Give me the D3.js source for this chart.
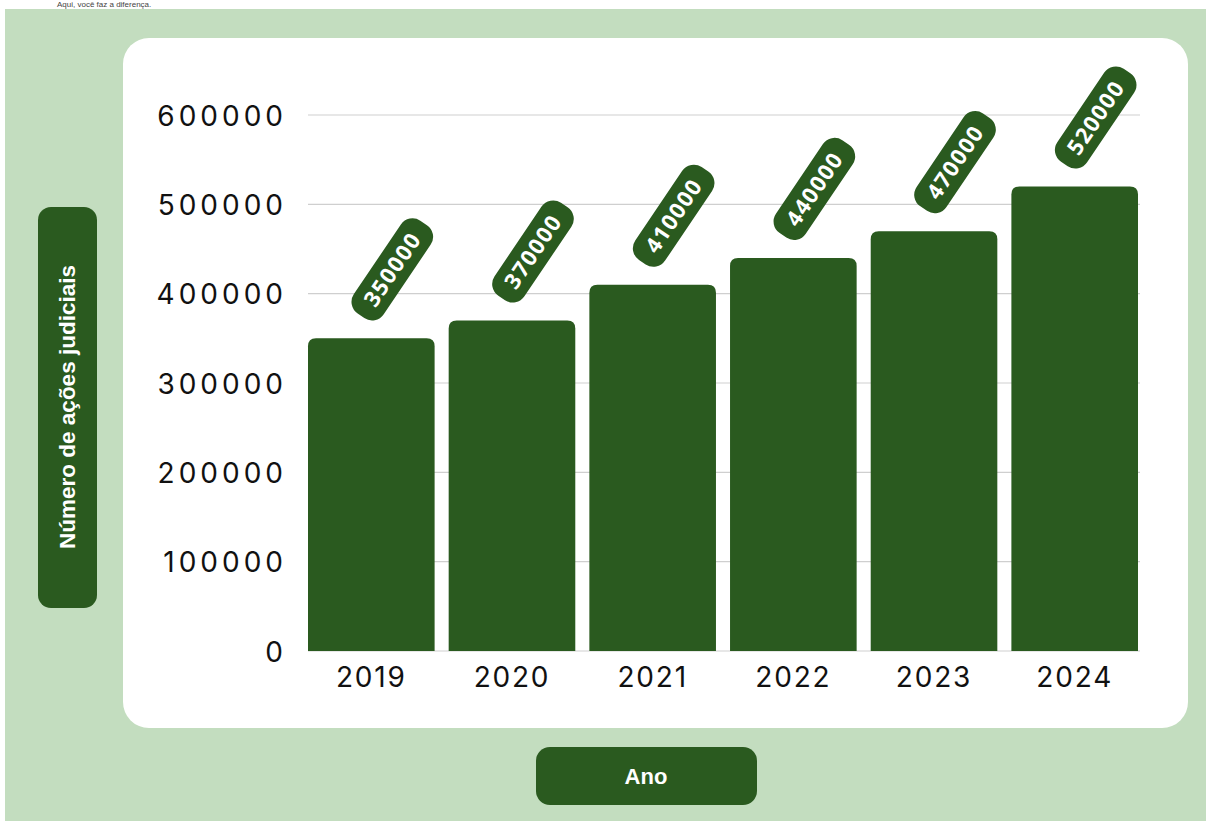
<!DOCTYPE html>
<html><head><meta charset="utf-8">
<script src="https://cdn.jsdelivr.net/npm/d3@7"></script>
<style>
html,body{margin:0;padding:0;background:#fff;}
svg{display:block;}
</style></head>
<body>
<svg id="chart" width="1206" height="821"></svg>
<script>
const years = ["2019","2020","2021","2022","2023","2024"];
const acoes = [350000,370000,410000,440000,470000,520000];
const yTicks = [0,100000,200000,300000,400000,500000,600000];
const yTitle = "Número de ações judiciais";
const xTitle = "Ano";
const caption = "Aqui, você faz a diferença.";

const dark = "#2a5a1f", light = "#c3ddbf";
const svg = d3.select("#chart");

svg.append("text").attr("x",57).attr("y",7).attr("font-family","Liberation Sans, Arial")
  .attr("font-size",8).attr("fill","#444").text(caption);

svg.append("rect").attr("x",5).attr("y",9).attr("width",1201).attr("height",812).attr("fill",light);
svg.append("rect").attr("x",123).attr("y",38).attr("width",1065).attr("height",690).attr("rx",26).attr("fill","#fff");

const x = d3.scaleBand().domain(years).range([308,1138]).paddingInner(0.1).paddingOuter(0);
const y = d3.scaleLinear().domain([0,600000]).range([651,115]);

// grid
svg.append("g").selectAll("line").data(yTicks).join("line")
  .attr("x1",308).attr("x2",1140).attr("y1",d=>y(d)).attr("y2",d=>y(d))
  .attr("stroke","#cfcfcf").attr("stroke-width",1.2);

// y axis
const yAxis = svg.append("g").attr("transform","translate(296,0)")
  .call(d3.axisLeft(y).tickValues(yTicks).tickSize(0).tickPadding(9).tickFormat(d3.format("d")));
yAxis.select(".domain").remove();
yAxis.selectAll("text").attr("font-family","Inter, sans-serif").attr("font-size",28)
  .attr("fill","#111").attr("letter-spacing",4).attr("dy","0.36em");

// x axis
const xAxis = svg.append("g").attr("transform",`translate(0,${y(0)})`)
  .call(d3.axisBottom(x).tickSize(0).tickPadding(16));
xAxis.select(".domain").remove();
xAxis.selectAll("text").attr("font-family","Inter, sans-serif").attr("font-size",28)
  .attr("fill","#111").attr("letter-spacing",1.8);

// bars
const r = 8;
function barPath(x0,y0,w,h){
  return `M${x0},${y0+h}V${y0+r}Q${x0},${y0} ${x0+r},${y0}H${x0+w-r}Q${x0+w},${y0} ${x0+w},${y0+r}V${y0+h}Z`;
}
svg.append("g").selectAll("path").data(years).join("path")
  .attr("d",(d,i)=>barPath(x(d),y(acoes[i]),x.bandwidth(),y(0)-y(acoes[i])))
  .attr("fill",dark);

// value labels
const lab = svg.append("g").selectAll("g").data(years).join("g")
  .attr("transform",(d,i)=>`translate(${x(d)+x.bandwidth()/2+21},${y(acoes[i])-69}) rotate(-56)`);
lab.append("rect").attr("x",-56).attr("y",-18).attr("width",112).attr("height",36).attr("rx",14).attr("fill",dark);
lab.append("text").attr("text-anchor","middle").attr("dy","0.36em")
  .attr("font-family","Open Sans, sans-serif").attr("font-weight",700).attr("font-size",22)
  .attr("letter-spacing",1.4).attr("fill","#fff").text((d,i)=>acoes[i]);

// y title box
svg.append("rect").attr("x",38).attr("y",207).attr("width",59).attr("height",401).attr("rx",13).attr("fill",dark);
svg.append("text").attr("transform","translate(67,407) rotate(-90)").attr("text-anchor","middle").attr("dy","0.36em")
  .attr("font-family","Liberation Sans, Arial, sans-serif").attr("font-weight",700).attr("font-size",22.5)
  .attr("fill","#fff").text(yTitle);

// x title box
svg.append("rect").attr("x",536).attr("y",747).attr("width",221).attr("height",58).attr("rx",14).attr("fill",dark);
svg.append("text").attr("x",646).attr("y",776).attr("text-anchor","middle").attr("dy","0.36em")
  .attr("font-family","Liberation Sans, Arial, sans-serif").attr("font-weight",700).attr("font-size",22)
  .attr("fill","#fff").text(xTitle);
</script>
</body></html>
